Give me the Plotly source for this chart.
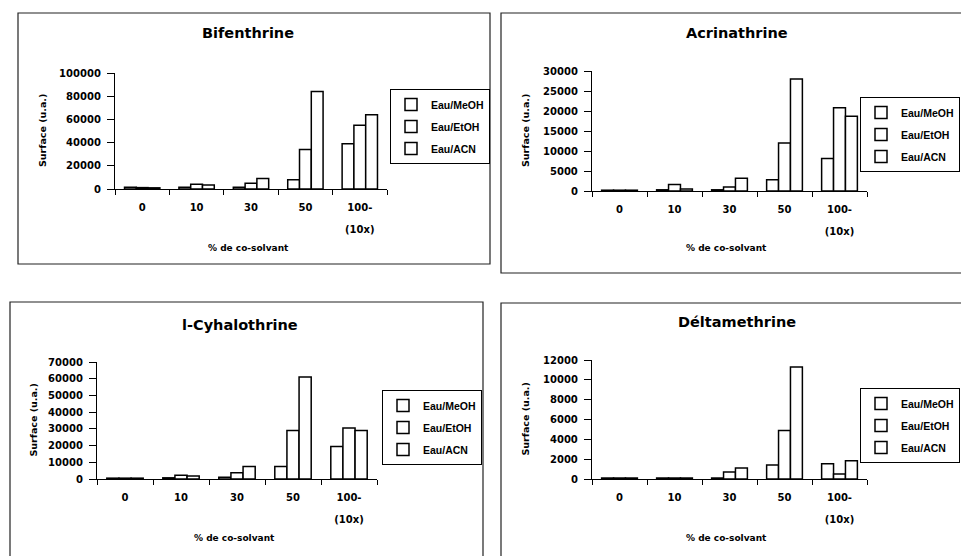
import plotly.graph_objects as go

W, H = 961, 556

categories = ["0", "10", "30", "50", "100-(10x)"]
tick_labels = ["0", "10", "30", "50", "100-<br> <br>(10x)"]
series_names = ["Eau/MeOH", "Eau/EtOH", "Eau/ACN"]

bifenthrine_meoh = [1500, 1500, 1500, 8000, 39000]
bifenthrine_etoh = [1200, 4000, 5000, 34000, 55000]
bifenthrine_acn = [1000, 3500, 9000, 84000, 64000]

acrinathrine_meoh = [200, 300, 300, 2800, 8100]
acrinathrine_etoh = [200, 1600, 1000, 12000, 20800]
acrinathrine_acn = [200, 500, 3200, 28000, 18700]

cyhalothrine_meoh = [500, 700, 1000, 7500, 19500]
cyhalothrine_etoh = [500, 2200, 3800, 29000, 30500]
cyhalothrine_acn = [500, 1800, 7500, 61000, 29000]

deltamethrine_meoh = [100, 100, 100, 1400, 1550]
deltamethrine_etoh = [100, 100, 700, 4900, 500]
deltamethrine_acn = [100, 100, 1100, 11300, 1850]

panels = [
    dict(title="Bifenthrine", data=[bifenthrine_meoh, bifenthrine_etoh, bifenthrine_acn],
         ymax=100000, dtick=20000,
         plot=(115, 387, 73, 189), box=(18, 490, 13, 264),
         title_xy=(248, 33), xt_y=248, yt_x=42,
         legend=(390, 89, "left")),
    dict(title="Acrinathrine", data=[acrinathrine_meoh, acrinathrine_etoh, acrinathrine_acn],
         ymax=30000, dtick=5000,
         plot=(592, 867, 71, 191), box=(501, 975, 13, 273),
         title_xy=(737, 33), xt_y=248, yt_x=525,
         legend=(960, 97, "right")),
    dict(title="l-Cyhalothrine", data=[cyhalothrine_meoh, cyhalothrine_etoh, cyhalothrine_acn],
         ymax=70000, dtick=10000,
         plot=(97, 377, 362, 479), box=(10, 483, 302, 570),
         title_xy=(240, 325), xt_y=538, yt_x=33,
         legend=(382, 390, "left")),
    dict(title="Déltamethrine", data=[deltamethrine_meoh, deltamethrine_etoh, deltamethrine_acn],
         ymax=12000, dtick=2000,
         plot=(592, 867, 360, 479), box=(501, 975, 303, 570),
         title_xy=(737, 322), xt_y=538, yt_x=525,
         legend=(960, 388, "right")),
]

FONT = "DejaVu Sans, Arial, sans-serif"
LFONT = "Liberation Sans, Arial, sans-serif"

def px(x):
    return x / W

def py(y):
    return 1 - y / H

fig = go.Figure()
layout = dict(
    width=W, height=H,
    margin=dict(l=0, r=0, t=0, b=0, autoexpand=False),
    paper_bgcolor="white", plot_bgcolor="white",
    font=dict(family=FONT, size=10, color="black", weight="bold"),
    barmode="group", bargap=0.35, bargroupgap=0,
    showlegend=True,
)
shapes = []
annotations = []

styled_ticks = ['<span style="font-size:10px">' + t.replace("<br>", '</span><br><span style="font-size:10px">') + "</span>"
                for t in tick_labels]

for i, p in enumerate(panels):
    n = "" if i == 0 else str(i + 1)
    xa = "x" + n
    ya = "y" + n
    lg = "legend" + n
    for j, name in enumerate(series_names):
        fig.add_trace(go.Bar(
            x=categories, y=p["data"][j], name=name,
            xaxis=xa, yaxis=ya, legend=lg, legendgroup=f"p{i}s{j}",
            marker=dict(color="white", line=dict(color="black", width=1.5)),
        ))
    x0, x1, y0, y1 = p["plot"]
    layout["xaxis" + n] = dict(
        domain=[px(x0), px(x1)], anchor=ya, type="category",
        tickmode="array", tickvals=categories, ticktext=styled_ticks,
        showline=True, linecolor="black", linewidth=1.3,
        ticks="outside", tickson="boundaries", ticklen=5, tickcolor="black", tickwidth=1.3,
        showgrid=False, tickfont=dict(size=8.5, family=FONT, weight="bold"),
        ticklabelstandoff=11, fixedrange=True,
    )
    layout["yaxis" + n] = dict(
        domain=[py(y1), py(y0)], anchor=xa, range=[0, p["ymax"]], dtick=p["dtick"],
        showline=True, linecolor="black", linewidth=1.3,
        ticks="outside", ticklen=7, tickcolor="black", tickwidth=1.3,
        showgrid=False, zeroline=False, tickformat="d",
        tickfont=dict(size=10, family=FONT, weight="bold"),
        ticklabelstandoff=4, fixedrange=True,
    )
    lx, ly, lanchor = p["legend"]
    layout[lg] = dict(
        x=px(lx), y=py(ly), xanchor=lanchor, yanchor="top",
        bordercolor="black", borderwidth=1, bgcolor="white",
        font=dict(size=10.5, family=LFONT, weight="bold"),
        itemwidth=30, tracegroupgap=3, itemclick=False, itemdoubleclick=False,
    )
    bx0, bx1, by0, by1 = p["box"]
    shapes.append(dict(type="rect", xref="paper", yref="paper",
                       x0=px(bx0), x1=px(bx1), y0=py(by1), y1=py(by0),
                       line=dict(color="#222", width=1.2), layer="below"))
    tx, ty = p["title_xy"]
    annotations.append(dict(text=p["title"], x=px(tx), y=py(ty), xref="paper", yref="paper",
                            showarrow=False, xanchor="center", yanchor="middle",
                            font=dict(size=14.5, family=FONT, weight="bold")))
    annotations.append(dict(text="% de co-solvant", x=px((x0 + x1) / 2 - 3), y=py(p["xt_y"]),
                            xref="paper", yref="paper", showarrow=False,
                            xanchor="center", yanchor="middle",
                            font=dict(size=9, family=FONT, weight="bold")))
    annotations.append(dict(text="Surface (u.a.)", x=px(p["yt_x"]), y=py((y0 + y1) / 2),
                            xref="paper", yref="paper", showarrow=False, textangle=-90,
                            xanchor="center", yanchor="middle",
                            font=dict(size=9.5, family=FONT, weight="bold")))

layout["shapes"] = shapes
layout["annotations"] = annotations
fig.update_layout(**layout)
fig.write_html("out.html")
